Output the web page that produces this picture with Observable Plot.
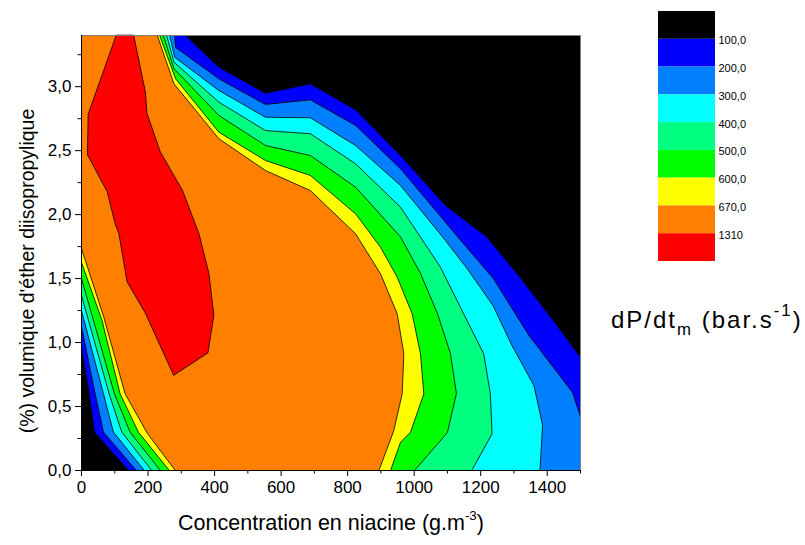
<!DOCTYPE html>
<html><head><meta charset="utf-8">
<script src="https://cdn.jsdelivr.net/npm/d3@7"></script>
<script src="https://cdn.jsdelivr.net/npm/@observablehq/plot@0.6"></script>
<style>
body{margin:0;background:#fff;font-family:"Liberation Sans",Arial,sans-serif;}
#wrap{position:relative;width:805px;height:545px;overflow:hidden;background:#fff;}
#main{position:absolute;left:0;top:0;}
#legend{position:absolute;left:600px;top:0;}
.lab{position:absolute;color:#000;white-space:nowrap;line-height:1;}
.lab sup{font-size:62%;position:relative;top:-0.15em;vertical-align:super;line-height:0;}
.lab sub{font-size:62%;position:relative;top:0.1em;vertical-align:sub;line-height:0;}
#xlab{left:331px;top:513px;font-size:21.5px;transform:translateX(-50%);}
#ylab{left:28px;top:271px;font-size:19.5px;transform:translate(-50%,-50%) rotate(-90deg);}
#ztitle{left:611px;top:308px;font-size:24px;letter-spacing:2px;}
#ztitle sub,#ztitle sup{font-size:70%;}
</style></head><body>
<div id="wrap"><div id="main"></div><div id="legend"></div>
<div class="lab" id="xlab">Concentration en niacine (g.m<sup>-3</sup>)</div>
<div class="lab" id="ylab">(%) volumique d'éther diisopropylique</div>
<div class="lab" id="ztitle">dP/dt<sub>m</sub> (bar.s<sup>-1</sup>)</div>
</div>
<script>
// contour levels (legend labels) and band colours (lowest -> highest)
const levels = ["100,0","200,0","300,0","400,0","500,0","600,0","670,0","1310"];
const colors = ["#000000","#0000FF","#0080FF","#00FFFF","#00FF80","#00FF00","#FFFF00","#FF8000","#FF0000"];

// axis ticks
const xMajor = [0,200,400,600,800,1000,1200,1400];
const xMinor = [100,300,500,700,900,1100,1300,1500];
const yMajor = [0,0.5,1,1.5,2,2.5,3];
const yMinor = [0.25,0.75,1.25,1.75,2.25,2.75,3.25];
const xDomain = [0,1500];
const yDomain = [0,3.4];

// upper-right contour lines [concentration, % volume], from top edge to right/bottom edge
const upper100 = [[313,3.40],[413,3.152],[553,2.949],[688,3.022],[824,2.819],[959,2.462],[1094,2.071],[1217,1.829],[1314,1.524],[1425,1.149],[1500,0.883]];
const upper200 = [[280,3.40],[283,3.306],[413,3.061],[553,2.861],[688,2.897],[824,2.697],[959,2.358],[1094,1.941],[1127,1.837],[1238,1.50],[1344,1.06],[1476,0.61],[1500,0.42]];
const upper300 = [[265,3.40],[280,3.230],[413,2.970],[553,2.761],[688,2.757],[824,2.540],[959,2.228],[1094,1.798],[1160,1.575],[1237,1.289],[1294,0.977],[1360,0.664],[1386,0.353],[1378,0]];
const upper400 = [[256,3.40],[278,3.191],[413,2.879],[553,2.657],[688,2.632],[824,2.397],[959,2.058],[1019,1.824],[1079,1.589],[1149,1.224],[1209,0.912],[1229,0.599],[1234,0.286],[1173,0]];
const upper500 = [[246,3.40],[278,3.140],[413,2.775],[553,2.540],[688,2.462],[824,2.214],[959,1.826],[1019,1.540],[1070,1.227],[1109,0.915],[1127,0.602],[1100,0.297],[1001,0]];
const upper600 = [[235,3.40],[283,3.061],[413,2.644],[553,2.423],[688,2.306],[824,2.006],[899,1.745],[949,1.511],[994,1.225],[1019,0.912],[1029,0.599],[989,0.299],[959,0.221],[929,0]];
const upper670 = [[228,3.40],[278,3.022],[413,2.593],[553,2.345],[688,2.188],[824,1.850],[899,1.537],[949,1.225],[969,0.912],[964,0.599],[939,0.313],[894,0]];

// lower-left contour lines, from left edge to bottom edge
const lower100 = [[0,0.96],[23,0.60],[39,0.30],[141,0]];
const lower200 = [[0,1.125],[41,0.60],[66,0.30],[165,0]];
const lower300 = [[0,1.25],[66,0.60],[96,0.30],[189,0]];
const lower400 = [[0,1.368],[83,0.60],[121,0.30],[211,0]];
const lower500 = [[0,1.50],[99,0.60],[146,0.30],[237,0]];
const lower600 = [[0,1.626],[62,1.17],[116,0.60],[171,0.30],[264,0]];
const lower670 = [[0,1.735],[67,1.198],[131,0.60],[198,0.29],[282,0]];

// closed 1310 contour
const island1310 = [[104,3.40],[20,2.785],[18,2.467],[77,2.18],[102,1.92],[112,1.856],[137,1.475],[192,1.23],[277,0.744],[380,0.919],[398,1.214],[383,1.54],[353,1.853],[303,2.193],[237,2.49],[197,2.79],[192,2.96],[157,3.40]];

const uppers = [upper100,upper200,upper300,upper400,upper500,upper600,upper670];
const lowers = [lower100,lower200,lower300,lower400,lower500,lower600,lower670];

const X = d => d[0], Y = d => d[1];
const fr = d => d.toFixed(1).replace(".", ",");

const marks = [Plot.frame({fill: colors[0], stroke: "none"})];
uppers.forEach((u, k) => {
  const poly = [[xDomain[0], yDomain[1]], ...lowers[k], [xDomain[1], yDomain[0]], ...u.slice().reverse()];
  marks.push(Plot.line(poly, {x: X, y: Y, fill: colors[k+1], stroke: "none", curve: "linear-closed"}));
});
marks.push(Plot.line(island1310, {x: X, y: Y, fill: colors[8], stroke: "#000", strokeWidth: 0.8, curve: "linear-closed"}));
[...uppers, ...lowers].forEach(l => {
  marks.push(Plot.line(l, {x: X, y: Y, stroke: "#000", strokeWidth: 0.8, strokeLinejoin: "miter"}));
});
marks.push(
  Plot.frame({stroke: "#808080", strokeWidth: 1}),
  Plot.ruleX([xDomain[0]], {stroke: "#000", strokeWidth: 1}),
  Plot.ruleY([yDomain[0]], {stroke: "#000", strokeWidth: 1}),
  Plot.axisX({ticks: xMajor, tickSize: 6, tickPadding: 4, fontSize: 17, label: null, tickFormat: d => String(d)}),
  Plot.axisX({ticks: xMinor, tickSize: 3.5, tickFormat: () => "", label: null}),
  Plot.axisY({ticks: yMajor, tickSize: 6, tickPadding: 4, fontSize: 17, label: null, tickFormat: fr}),
  Plot.axisY({ticks: yMinor, tickSize: 3.5, tickFormat: () => "", label: null})
);

const main = Plot.plot({
  width: 600, height: 545,
  marginLeft: 81, marginRight: 20, marginTop: 35, marginBottom: 75,
  x: {domain: xDomain},
  y: {domain: yDomain},
  style: {fontFamily: "'Liberation Sans', Arial, sans-serif", color: "#000", background: "transparent"},
  marks
});
document.getElementById("main").appendChild(main);

const idx = d3.range(colors.length);
const legend = Plot.plot({
  width: 205, height: 290,
  marginLeft: 58, marginRight: 90, marginTop: 11, marginBottom: 29,
  x: {domain: [0, 1], axis: null},
  y: {domain: [0, colors.length], reverse: true, axis: null},
  color: {type: "identity"},
  style: {fontFamily: "'Liberation Sans', Arial, sans-serif", color: "#000", background: "transparent"},
  marks: [
    Plot.rect(idx, {x1: 0, x2: 1, y1: i => i, y2: i => i + 1, fill: i => colors[i]}),
    Plot.text(levels, {x: 1, y: (d, i) => i + 1, text: d => d, textAnchor: "start", dx: 3, dy: 1.5, fontSize: 11})
  ]
});
document.getElementById("legend").appendChild(legend);
</script>
</body></html>
